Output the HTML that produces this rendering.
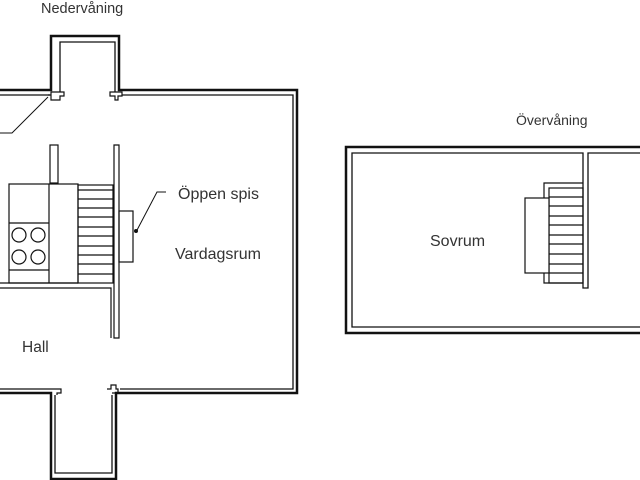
<!DOCTYPE html>
<html><head><meta charset="utf-8"><style>
html,body{margin:0;padding:0;background:#fff;width:640px;height:480px;overflow:hidden}
svg{display:block}
text{font-family:"Liberation Sans","DejaVu Sans",sans-serif;fill:#333}
</style></head><body>
<svg width="640" height="480" viewBox="0 0 640 480" xmlns="http://www.w3.org/2000/svg">
<g fill="none" stroke="#111">
<path d="M0 90 H51 V36 H119 V90 H297 V393 H116 V479 H51 V393 H0" stroke-width="2.5"/>
<path d="M0 95 H50 M60 92 V42 H115 V92 M122 95 H293 V389 H120 M112 395 V473 H55 V395 M48 389 H0" stroke-width="1.3"/>
<path d="M48 95 H51 V92 H64 V96 H60 V100 H51 V95" stroke-width="1.2"/>
<path d="M110 92 H122 V96 H118 V100 H115 V96 H110 Z" stroke-width="1.2"/>
<path d="M48 389 H61 V393 H57 V395" stroke-width="1.2"/>
<path d="M107 389 H111 V385 H116 V389 H118 V393 H112" stroke-width="1.2"/>
<path d="M0 133 H12 L48 97" stroke-width="1"/>
<path d="M166 192 H157 L136 232" stroke-width="1"/>
<circle cx="136" cy="231" r="1.5" fill="#111"/>
<rect x="50" y="145" width="8" height="38" stroke-width="1.2"/>
<path d="M114 145 H119 V338 H114 Z" stroke-width="1.2"/>
<rect x="9" y="184" width="69" height="99" stroke-width="1.2"/>
<path d="M49 184 V283 M9 223 H49 M9 270 H49" stroke-width="1.2"/>
<circle cx="19" cy="235" r="7" stroke-width="1.2"/><circle cx="38" cy="235" r="7" stroke-width="1.2"/>
<circle cx="19" cy="257" r="7" stroke-width="1.2"/><circle cx="38" cy="257" r="7" stroke-width="1.2"/>
<rect x="78" y="185" width="35" height="98" stroke-width="1.2"/>
<path d="M78 190 H113 M78 199 H113 M78 208 H113 M78 217 H113 M78 227 H113 M78 236 H113 M78 246 H113 M78 255 H113 M78 264 H113 M78 274 H113" stroke-width="1.2"/>
<rect x="119" y="211" width="14" height="51" stroke-width="1.2"/>
<path d="M0 283 H78 M0 288 H111 V338" stroke-width="1.2"/>
<path d="M640 147 H346 V333 H640" stroke-width="2.5"/>
<path d="M640 153 H588 V288 H583 V153 H352 V327 H640" stroke-width="1.3"/>
<path d="M583 183 H544 V283 H583" stroke-width="1.2"/>
<rect x="549" y="188" width="34" height="95" stroke-width="1.2"/>
<path d="M549 197 H583 M549 206 H583 M549 216 H583 M549 225 H583 M549 235 H583 M549 244 H583 M549 254 H583 M549 264 H583 M549 273 H583" stroke-width="1.2"/>
<rect x="525" y="198" width="24" height="75" fill="#fff" stroke-width="1.2"/>
</g>
<text x="41" y="13" font-size="14.5">Nedervåning</text>
<text x="178" y="199" font-size="16">Öppen spis</text>
<text x="175" y="259" font-size="16">Vardagsrum</text>
<text x="22" y="352" font-size="15.5">Hall</text>
<text x="516" y="125" font-size="14">Övervåning</text>
<text x="430" y="246" font-size="16">Sovrum</text>
</svg>
</body></html>
